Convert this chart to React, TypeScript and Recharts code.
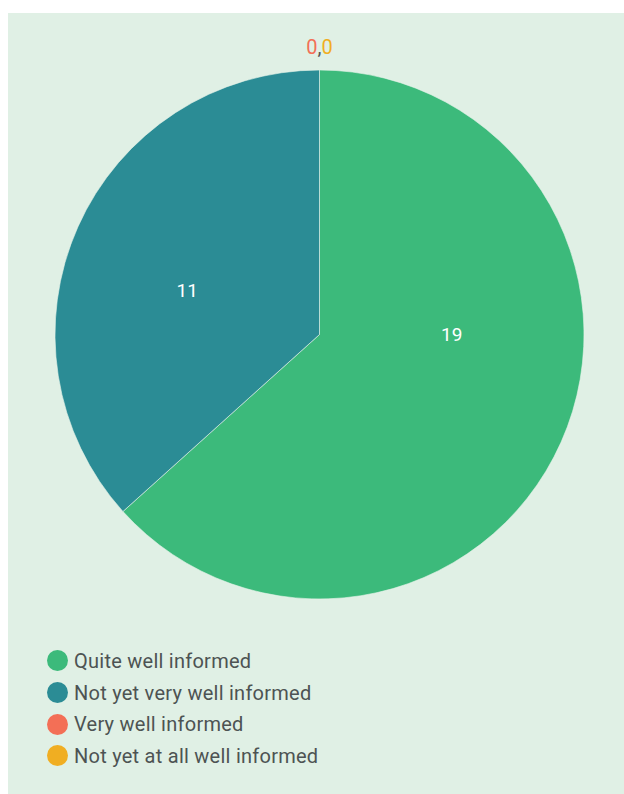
import React from 'react';
import { PieChart, Pie, Cell, Legend } from 'recharts';

const categories = ['Quite well informed', 'Not yet very well informed', 'Very well informed', 'Not yet at all well informed'];
const values = [19, 11, 0, 0];
const colors = ['#3cba7b', '#2b8c95', '#f36f56', '#f0ae22'];

const data = categories.map((name, i) => ({ name, value: values[i], fill: colors[i] }));

const FONT = 'Roboto, "Noto Sans", sans-serif';
const RAD = Math.PI / 180;

// label anchor: centre of the box spanned by the slice's centre, its start point
// and the axis extremes its arc covers
const sliceBoxCentre = (cx: number, cy: number, r: number, a0: number, a1: number) => {
  const pt = (a: number) => [cx + r * Math.cos(a * RAD), cy - r * Math.sin(a * RAD)];
  const pts: number[][] = [[cx, cy], pt(a0)];
  const lo = Math.min(a0, a1);
  const hi = Math.max(a0, a1);
  for (let k = Math.ceil(lo / 90); k <= Math.floor(hi / 90); k++) pts.push(pt(k * 90));
  const xs = pts.map((p) => p[0]);
  const ys = pts.map((p) => p[1]);
  return [(Math.min(...xs) + Math.max(...xs)) / 2, (Math.min(...ys) + Math.max(...ys)) / 2];
};

const renderLabel = (props: any) => {
  const { cx, cy, midAngle, outerRadius, index, value, startAngle, endAngle } = props;
  if (value === 0) {
    const zeroIdx = data.map((d, i) => (d.value === 0 ? i : -1)).filter((i) => i >= 0);
    if (index !== zeroIdx[0]) return null;
    const x = cx + (outerRadius + 23) * Math.cos(-midAngle * RAD);
    const y = cy + (outerRadius + 23) * Math.sin(-midAngle * RAD);
    return (
      <text x={x} y={y} textAnchor="middle" dominantBaseline="central" fontFamily={FONT} fontSize={20}>
        {zeroIdx.map((zi, k) => (
          <React.Fragment key={zi}>
            {k > 0 && <tspan fill="#555">,</tspan>}
            <tspan fill={data[zi].fill}>{data[zi].value}</tspan>
          </React.Fragment>
        ))}
      </text>
    );
  }
  let x: number;
  let y: number;
  if (typeof startAngle === 'number' && typeof endAngle === 'number') {
    [x, y] = sliceBoxCentre(cx, cy, outerRadius, startAngle, endAngle);
  } else {
    const r = outerRadius * 0.5;
    x = cx + r * Math.cos(-midAngle * RAD);
    y = cy + r * Math.sin(-midAngle * RAD);
  }
  return (
    <text x={x} y={y} fill="#ffffff" textAnchor="middle" dominantBaseline="central" fontFamily={FONT} fontSize={19}>
      {value}
    </text>
  );
};

const renderLegend = () => {
  return (
    <div style={{ fontFamily: FONT, fontSize: 20, letterSpacing: 0.25, color: '#4d5353' }}>
      {data.map((entry, i) => (
        <div key={i} style={{ display: 'flex', alignItems: 'center', height: 31.7 }}>
          <span
            style={{
              display: 'inline-block',
              width: 21,
              height: 21,
              borderRadius: '50%',
              background: entry.fill,
              marginRight: 6,
              flexShrink: 0,
            }}
          />
          <span>{entry.name}</span>
        </div>
      ))}
    </div>
  );
};

export default function App() {
  return (
    <div
      style={{
        position: 'absolute',
        left: 8,
        top: 13,
        width: 620,
        height: 790,
        background: '#e0f0e5',
      }}
    >
      <PieChart width={616} height={781} margin={{ top: 0, right: 0, bottom: 0, left: 0 }}>
        <Pie
          data={data}
          dataKey="value"
          nameKey="name"
          cx={311.5}
          cy={321.5}
          outerRadius={264.5}
          startAngle={90}
          endAngle={-270}
          stroke="#e6f4ea"
          strokeWidth={0.6}
          label={renderLabel}
          labelLine={false}
          isAnimationActive={false}
        >
          {data.map((d, i) => (
            <Cell key={i} fill={d.fill} />
          ))}
        </Pie>
        <Legend
          content={renderLegend}
          wrapperStyle={{ position: 'absolute', left: 39, top: 632, width: 450 }}
        />
      </PieChart>
    </div>
  );
}
